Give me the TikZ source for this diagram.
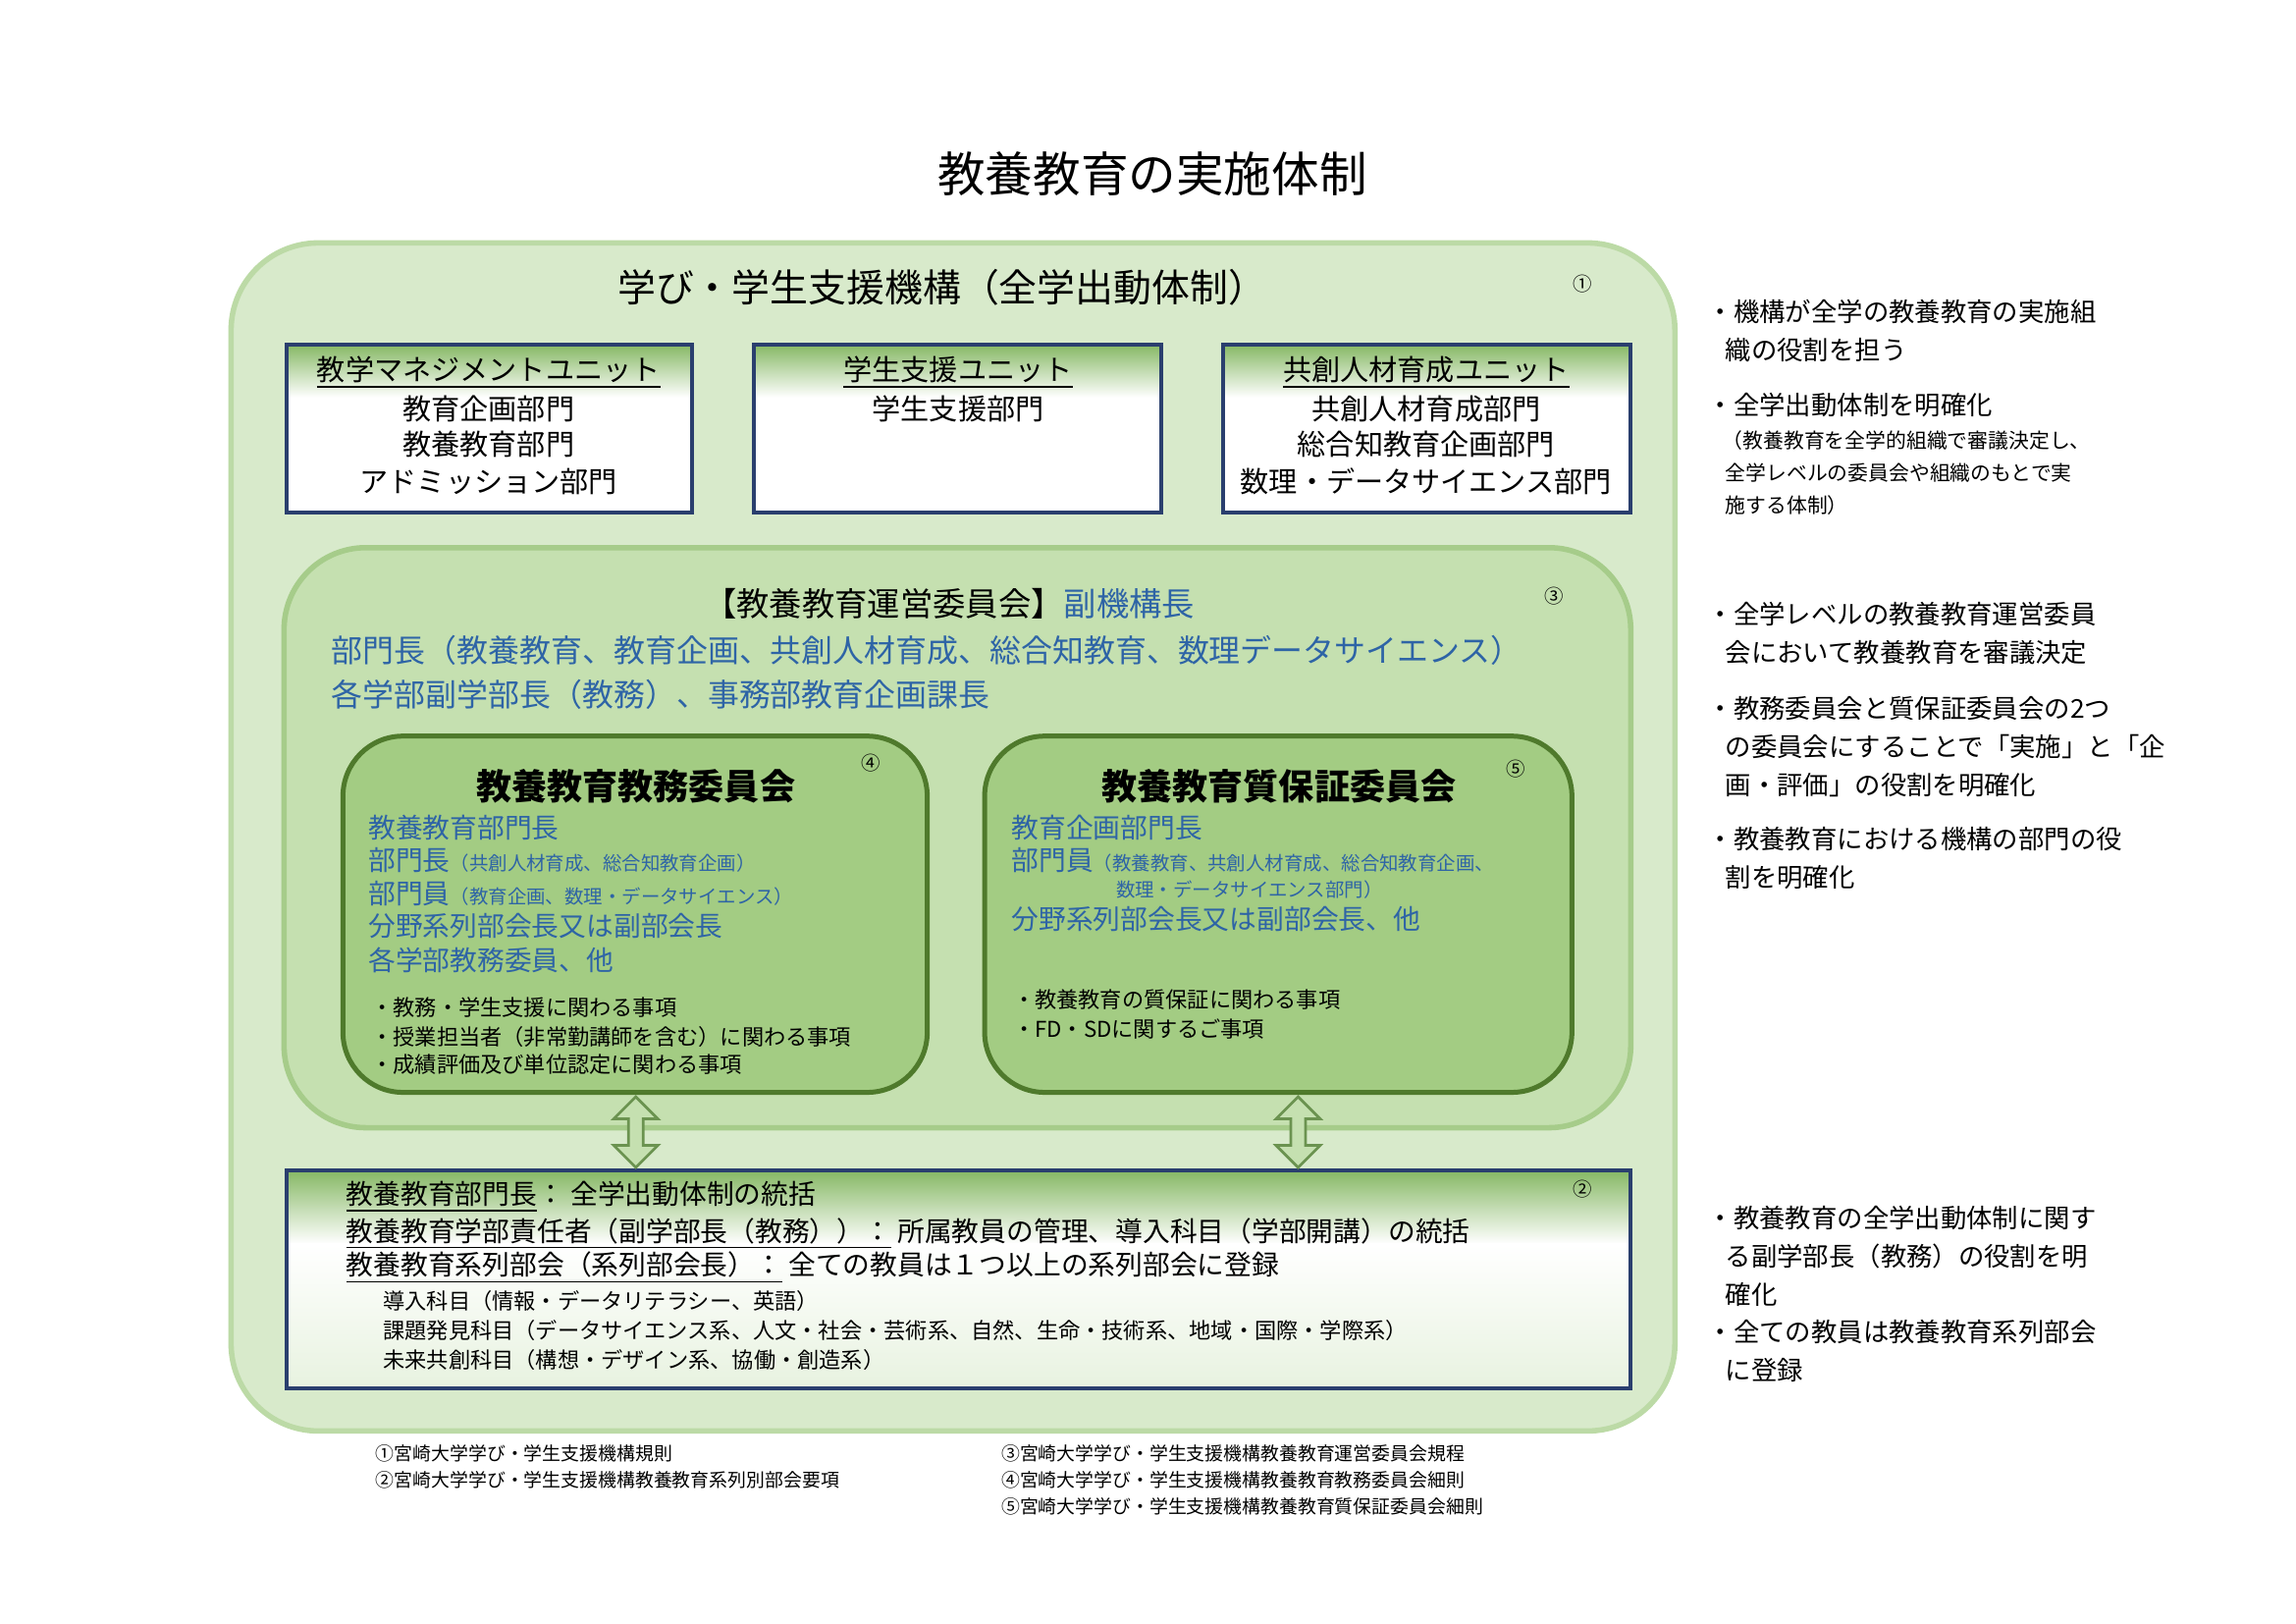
\documentclass[tikz,border=0pt]{standalone}
\usepackage{fontspec}
\setmainfont{Noto Sans CJK JP}
\usetikzlibrary{shapes.arrows}
\definecolor{outerg}{HTML}{D8EACB}
\definecolor{outerb}{HTML}{BCDAA6}
\definecolor{midg}{HTML}{C5E0B0}
\definecolor{midb}{HTML}{A6CC8A}
\definecolor{innerg}{HTML}{A3CC83}
\definecolor{innerb}{HTML}{4F7A2C}
\definecolor{navy}{HTML}{2A3F6E}
\definecolor{hdrg}{HTML}{86B864}
\definecolor{bluet}{HTML}{2E64A6}
\newcommand{\fs}[1]{\fontsize{#1}{#1}\selectfont}
\tikzset{
 unitbox/.style={draw=navy,line width=1.4pt},
 txt/.style={inner sep=0pt,anchor=west},
 ctr/.style={inner sep=0pt,anchor=center},
 dbl/.style={double arrow,draw=hdrg!80!black,fill=midg,line width=1pt,minimum width=30*0.54pt,double arrow head extend=3pt,minimum height=48*0.54pt,rotate=90,inner sep=1pt}
}
\begin{document}
\begin{tikzpicture}[x=0.54pt,y=-0.54pt]
\useasboundingbox (0,0) rectangle (1560,1103);
\node[ctr] (title) at (783,118) {\fs{17.5}教養教育の実施体制};
% outer
\draw[fill=outerg,draw=outerb,line width=2pt,rounded corners=32pt] (157,165) rectangle (1138,972);
\node[ctr] (mech) at (640,195) {\fs{14}学び・学生支援機構（全学出動体制）};
\node[ctr] (c1) at (1075,193) {\fs{7}①};
% unit boxes
\foreach \xa/\xb/\nm in {195/470/ua,512/789/ub,831/1108/uc}{
 \fill[white] (\xa,234) rectangle (\xb,348);
 \shade[top color=hdrg,bottom color=white] (\xa,234) rectangle (\xb,270);
 \draw[unitbox] (\xa,234) rectangle (\xb,348);
}
\node[ctr] (ua1) at (332,253) {\fs{10.5}\underline{教学マネジメントユニット}};
\node[ctr] (ua2) at (332,278) {\fs{10.5}教育企画部門};
\node[ctr] (ua3) at (332,302) {\fs{10.5}教養教育部門};
\node[ctr] (ua4) at (332,327) {\fs{10.5}アドミッション部門};
\node[ctr] (ub1) at (651,253) {\fs{10.5}\underline{学生支援ユニット}};
\node[ctr] (ub2) at (651,278) {\fs{10.5}学生支援部門};
\node[ctr] (uc1) at (969,253) {\fs{10.5}\underline{共創人材育成ユニット}};
\node[ctr] (uc2) at (969,278) {\fs{10.5}共創人材育成部門};
\node[ctr] (uc3) at (969,302) {\fs{10.5}総合知教育企画部門};
\node[ctr] (uc4) at (969,327) {\fs{10.5}数理・データサイエンス部門};
% middle
\draw[fill=midg,draw=midb,line width=2pt,rounded corners=30pt] (193,372) rectangle (1108,766);
\node[ctr] (m0) at (645,410) {\fs{12}【教養教育運営委員会】\textcolor{bluet}{副機構長}};
\node[ctr] (c3) at (1056,405) {\fs{7}③};
\node[txt,text=bluet] (m1) at (225,442) {\fs{11.5}部門長（教養教育、教育企画、共創人材育成、総合知教育、数理データサイエンス）};
\node[txt,text=bluet] (m2) at (225,472) {\fs{11.5}各学部副学部長（教務）、事務部教育企画課長};
% inner boxes
\draw[fill=innerg,draw=innerb,line width=1.8pt,rounded corners=22pt] (233,500) rectangle (630,742);
\draw[fill=innerg,draw=innerb,line width=1.8pt,rounded corners=22pt] (669,500) rectangle (1068,742);
\node[ctr] (a0) at (432,534) {\fs{13}\bfseries 教養教育教務委員会};
\node[ctr] (c4) at (592,518) {\fs{7}④};
\node[txt,text=bluet] (a1) at (250,562) {\fs{10}教養教育部門長};
\node[txt,text=bluet] (a2) at (250,584) {\fs{10}部門長\fs{7}（共創人材育成、総合知教育企画）};
\node[txt,text=bluet] (a3) at (250,607) {\fs{10}部門員\fs{7}（教育企画、数理・データサイエンス）};
\node[txt,text=bluet] (a4) at (250,629) {\fs{10}分野系列部会長又は副部会長};
\node[txt,text=bluet] (a5) at (250,652) {\fs{10}各学部教務委員、他};
\node[txt] (a6) at (252,684) {\fs{8}・教務・学生支援に関わる事項};
\node[txt] (a7) at (252,704) {\fs{8}・授業担当者（非常勤講師を含む）に関わる事項};
\node[txt] (a8) at (252,723) {\fs{8}・成績評価及び単位認定に関わる事項};
\node[ctr] (b0) at (869,534) {\fs{13}\bfseries 教養教育質保証委員会};
\node[ctr] (c5) at (1030,522) {\fs{7}⑤};
\node[txt,text=bluet] (b1) at (687,562) {\fs{10}教育企画部門長};
\node[txt,text=bluet] (b2) at (687,584) {\fs{10}部門員\fs{7}（教養教育、共創人材育成、総合知教育企画、};
\node[txt,text=bluet] (b3) at (758,604) {\fs{7}数理・データサイエンス部門）};
\node[txt,text=bluet] (b4) at (687,624) {\fs{10}分野系列部会長又は副部会長、他};
\node[txt] (b5) at (688,679) {\fs{8}・教養教育の質保証に関わる事項};
\node[txt] (b6) at (688,699) {\fs{8}・FD・SDに関するご事項};
% bottom box
\fill[white] (195,795) rectangle (1108,943);
\shade[top color=hdrg,bottom color=white] (195,795) rectangle (1108,845);
\shade[top color=white,bottom color=outerg!60] (195,845) rectangle (1108,943);
\draw[unitbox] (195,795) rectangle (1108,943);
\node[ctr] (c2) at (1075,808) {\fs{7}②};
\node[txt] (d1) at (235,813) {\fs{10}\underline{教養教育部門長}：\ 全学出動体制の統括};
\node[txt] (d2) at (235,838) {\fs{10}\underline{教養教育学部責任者（副学部長（教務））：}\ 所属教員の管理、導入科目（学部開講）の統括};
\node[txt] (d3) at (235,861) {\fs{10}\underline{教養教育系列部会（系列部会長）：}\ 全ての教員は１つ以上の系列部会に登録};
\node[txt] (d4) at (260,884) {\fs{8}導入科目（情報・データリテラシー、英語）};
\node[txt] (d5) at (260,904) {\fs{8}課題発見科目（データサイエンス系、人文・社会・芸術系、自然、生命・技術系、地域・国際・学際系）};
\node[txt] (d6) at (260,924) {\fs{8}未来共創科目（構想・デザイン系、協働・創造系）};
% arrows
\node[dbl] (ar1) at (432,769) {};
\node[dbl] (ar2) at (882,769) {};
% footnotes
\node[txt] (f1) at (255,987) {\fs{6.8}①宮崎大学学び・学生支援機構規則};
\node[txt] (f2) at (255,1005) {\fs{6.8}②宮崎大学学び・学生支援機構教養教育系列別部会要項};
\node[txt] (f3) at (680,987) {\fs{6.8}③宮崎大学学び・学生支援機構教養教育運営委員会規程};
\node[txt] (f4) at (680,1005) {\fs{6.8}④宮崎大学学び・学生支援機構教養教育教務委員会細則};
\node[txt] (f5) at (680,1023) {\fs{6.8}⑤宮崎大学学び・学生支援機構教養教育質保証委員会細則};
% right notes
\node[txt] (r1) at (1160,212) {\fs{9.5}・機構が全学の教養教育の実施組};
\node[txt] (r2) at (1172,238) {\fs{9.5}織の役割を担う};
\node[txt] (r3) at (1160,275) {\fs{9.5}・全学出動体制を明確化};
\node[txt] (r4) at (1170,299) {\fs{7.5}（教養教育を全学的組織で審議決定し、};
\node[txt] (r5) at (1172,321) {\fs{7.5}全学レベルの委員会や組織のもとで実};
\node[txt] (r6) at (1172,343) {\fs{7.5}施する体制）};
\node[txt] (r7) at (1160,417) {\fs{9.5}・全学レベルの教養教育運営委員};
\node[txt] (r8) at (1172,443) {\fs{9.5}会において教養教育を審議決定};
\node[txt] (r9) at (1160,481) {\fs{9.5}・教務委員会と質保証委員会の2つ};
\node[txt] (r10) at (1172,507) {\fs{9.5}の委員会にすることで「実施」と「企};
\node[txt] (r11) at (1172,533) {\fs{9.5}画・評価」の役割を明確化};
\node[txt] (r12) at (1160,570) {\fs{9.5}・教養教育における機構の部門の役};
\node[txt] (r13) at (1172,596) {\fs{9.5}割を明確化};
\node[txt] (r14) at (1160,827) {\fs{9.5}・教養教育の全学出動体制に関す};
\node[txt] (r15) at (1172,853) {\fs{9.5}る副学部長（教務）の役割を明};
\node[txt] (r16) at (1172,879) {\fs{9.5}確化};
\node[txt] (r17) at (1160,905) {\fs{9.5}・全ての教員は教養教育系列部会};
\node[txt] (r18) at (1172,931) {\fs{9.5}に登録};
\end{tikzpicture}
\end{document}
